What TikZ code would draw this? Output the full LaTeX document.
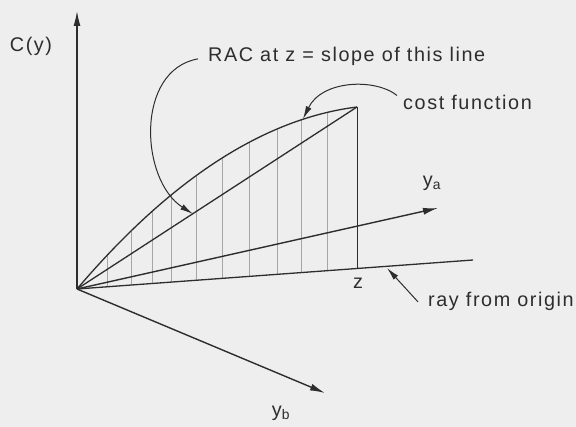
\documentclass[tikz,border=0pt]{standalone}
\usepackage{fontspec}
\setmainfont{Liberation Sans}[LetterSpace=8]
\usetikzlibrary{arrows.meta,calc}

\definecolor{paper}{RGB}{238,238,238}
\definecolor{ink}{RGB}{45,45,45}

\tikzset{
  axis/.style={ink,line width=1.4pt,-{Latex[length=15pt,width=7pt]}},
  curveline/.style={ink,line width=1.3pt},
  hatch/.style={black!35,line width=.4pt},
  pointer/.style={ink,line width=1pt,-{Latex[length=13pt,width=6pt]}},
  lbl/.style={text=ink,font=\fontsize{19.8}{22}\selectfont,inner sep=0pt}
}

\begin{document}
\begin{tikzpicture}[x=1pt,y=-1pt]
\fill[paper] (0,0) rectangle (576,427);
\useasboundingbox (0,0) rectangle (576,427);

% points of the figure
\coordinate (O) at (77,289);
\coordinate (top) at (77,11);
\coordinate (costtop) at (357,107);
\coordinate (yatip) at (438,208);
\coordinate (rayend) at (473,260);
\coordinate (ybtip) at (325,393);
\coordinate (zfoot) at (357,268.5);
\coordinate (racpt) at (193,214);
\coordinate (costpt) at (303,119);
\coordinate (rayptr) at (387,268);

% thin verticals under the cost function
\foreach \x in {107,131,152,171,196,222,249,277,301,327}{
  \pgfmathsetmacro\u{\x-77}
  \pgfmathsetmacro\ytop{289-1.174*\u+0.00187*\u*\u}
  \pgfmathsetmacro\ybot{289-0.0732*\u}
  \draw[hatch] (\x,\ytop) -- (\x,\ybot);
}

% axes and rays
\draw[axis] (O) -- (top);
\draw[axis] (O) -- (yatip);
\draw[axis] (O) -- (ybtip);
\draw[curveline] (O) -- (rayend);
\draw[curveline] (O) -- (costtop);
\draw[curveline] (O) .. controls (170.3,179.4) and (263.7,118.7) .. (costtop);
\draw[ink,line width=.9pt] (costtop) -- (zfoot);

% labels
\node[lbl] (lblC) at (31,46) {C(y)};
\node[lbl,anchor=base west] (lblRAC) at (208,62) {RAC at z = slope of this line};
\node[lbl,anchor=base west] (lblcost) at (403,110) {cost function};
\node[lbl,anchor=base west] (lblray) at (428,307) {ray from origin};
\node[lbl] (lblz) at (358,283) {z};
\node[lbl] (lblya) at (432,183) {y\textsubscript{a}};
\node[lbl] (lblyb) at (281,413) {y\textsubscript{b}};

% pointers
\draw[pointer] ([xshift=-10pt,yshift=-2pt]lblRAC.west) .. controls (135,70) and (140,180) .. (racpt);
\draw[pointer] ([xshift=-6pt]lblcost.north west) .. controls (375,78) and (322,80) .. (costpt);
\draw[pointer] ([xshift=-10pt]lblray.west) -- (rayptr);
\end{tikzpicture}
\end{document}
